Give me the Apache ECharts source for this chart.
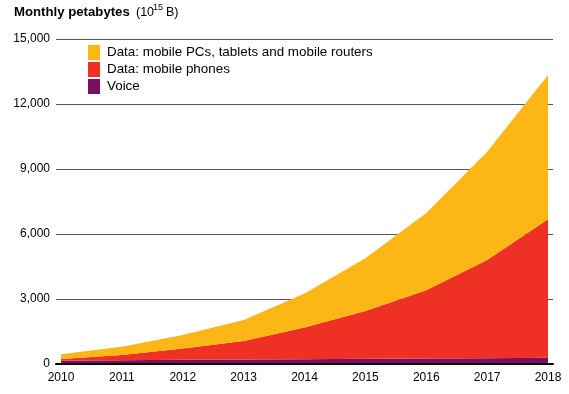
<!DOCTYPE html>
<html>
<head>
<meta charset="utf-8">
<script src="https://cdn.jsdelivr.net/npm/echarts@6/dist/echarts.min.js"></script>
<style>
html,body{margin:0;padding:0;background:#fff;}
#chart{width:569px;height:394px;}
</style>
</head>
<body>
<div id="chart"></div>
<script>
var years = ['2010','2011','2012','2013','2014','2015','2016','2017','2018'];
var voice = [150, 175, 195, 210, 225, 240, 255, 270, 290];
var phones = [80, 240, 525, 850, 1455, 2210, 3145, 4530, 6390];
var pcs = [215, 385, 620, 970, 1570, 2430, 3570, 5000, 6660];
var yTicks = [0, 3000, 6000, 9000, 12000, 15000];
var names = ['Data: mobile PCs, tablets and mobile routers', 'Data: mobile phones', 'Voice'];
var colors = {pcs:'#FCB716', phones:'#EE3124', voice:'#7A0E65'};

var chart = echarts.init(document.getElementById('chart'), null, {renderer:'canvas'});
var font = 'Liberation Sans, Arial, sans-serif';
function area(name, data, color){
  return {
    name: name, type: 'line', stack: 'total', xAxisIndex: 1, yAxisIndex: 1,
    data: data, symbol: 'none', showSymbol: false, silent: true,
    lineStyle: {width: 0, color: color},
    itemStyle: {color: color},
    areaStyle: {color: color, opacity: 1}
  };
}
chart.setOption({
  animation: false,
  textStyle: {fontFamily: font},
  grid: [
    {left: 56, right: 16, top: 39, bottom: 30},
    {left: 61, right: 21, top: 39, bottom: 30}
  ],
  legend: {
    orient: 'vertical', left: 88, top: 45, padding: 0, itemWidth: 12, itemHeight: 15, itemGap: 2,
    icon: 'rect', selectedMode: false,
    data: names,
    textStyle: {fontFamily: font, fontSize: 13.4, color: '#000', padding: [0,0,0,2]}
  },
  graphic: [
    {type:'text', left: 14, top: 6, style:{text:'Monthly petabytes', font:'bold 13.2px ' + font, fill:'#000'}},
    {type:'text', left: 136, top: 6, style:{text:'(10', font:'12.5px ' + font, fill:'#000'}},
    {type:'text', left: 153, top: 3, style:{text:'15', font:'9px ' + font, fill:'#000'}},
    {type:'text', left: 166, top: 6, style:{text:'B)', font:'12.5px ' + font, fill:'#000'}}
  ],
  xAxis: [
    {gridIndex: 0, type: 'value', min: 0, max: 1, z: 10,
      axisLine: {show: true, onZero: false, lineStyle: {color: '#000', width: 2}},
      axisTick: {show: false}, axisLabel: {show: false}, splitLine: {show: false}},
    {gridIndex: 1, type: 'category', data: years, boundaryGap: false,
      axisLine: {show: false}, axisTick: {show: false}, splitLine: {show: false},
      axisLabel: {color: '#000', fontSize: 12, margin: 8, fontFamily: font}}
  ],
  yAxis: [
    {gridIndex: 0, type: 'value', min: yTicks[0], max: yTicks[yTicks.length-1], interval: 3000,
      axisLine: {show: false}, axisTick: {show: false},
      splitLine: {show: true, lineStyle: {color: '#555', width: 1}},
      axisLabel: {color: '#000', fontSize: 12, margin: 6, fontFamily: font,
        formatter: function(v){ return v.toLocaleString('en-US'); }}},
    {gridIndex: 1, type: 'value', min: yTicks[0], max: yTicks[yTicks.length-1], show: false,
      splitLine: {show: false}}
  ],
  series: [
    area(names[2], voice, colors.voice),
    area(names[1], phones, colors.phones),
    area(names[0], pcs, colors.pcs)
  ]
});
</script>
</body>
</html>
